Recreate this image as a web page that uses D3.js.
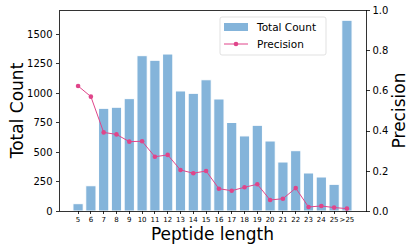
<!DOCTYPE html>
<meta charset="utf-8">
<script src="https://d3js.org/d3.v7.min.js"></script>
<style>
body {
  margin: 0;
  background-color: #ffffff;
}
text {
  font-family: "DejaVu Sans", sans-serif;
  fill: #000;
}
.axis path,
.axis line {
  stroke: #000;
  stroke-width: 0.8px;
  shape-rendering: crispEdges;
}
</style>
<body>
  <div id="chart"></div>
</body>
<script>
var lengths = ["5", "6", "7", "8", "9", "10", "11", "12", "13", "14", "15", "16",
               "17", "18", "19", "20", "21", "22", "23", "24", "25", ">25"];
var totalCount = [62, 214, 870, 879, 952, 1316, 1277, 1330, 1017, 997, 1112, 949,
                  750, 636, 726, 593, 415, 511, 322, 288, 226, 1616];
var precision = [0.622, 0.569, 0.391, 0.381, 0.345, 0.347, 0.270, 0.279, 0.204, 0.188, 0.199, 0.111,
                 0.101, 0.118, 0.133, 0.055, 0.061, 0.114, 0.020, 0.025, 0.017, 0.012];
var countTicks = [0, 250, 500, 750, 1000, 1250, 1500];
var precisionTicks = [0, 0.2, 0.4, 0.6, 0.8, 1.0];

var W = 415, H = 249;
var margin = {top: 10, right: 49, bottom: 38, left: 59},
    width = W - margin.left - margin.right,
    height = H - margin.top - margin.bottom;

var barColor = "#84b4da",
    lineColor = "#e0458a";

var svg = d3.select("#chart").append("svg")
    .attr("width", W)
    .attr("height", H);

var g = svg.append("g")
    .attr("transform", "translate(" + margin.left + "," + margin.top + ")");

var x = d3.scaleBand()
    .domain(lengths)
    .range([0, width])
    .paddingInner(0.2)
    .paddingOuter(1.09);

var y = d3.scaleLinear().domain([0, 1703]).range([height, 0]);
var y2 = d3.scaleLinear().domain([0, 1]).range([height, 0]);

var data = lengths.map(function(d, i) {
  return {len: d, count: totalCount[i], prec: precision[i]};
});

g.selectAll(".bar")
    .data(data)
    .enter().append("rect")
    .attr("class", "bar")
    .attr("x", function(d) { return x(d.len); })
    .attr("width", x.bandwidth())
    .attr("y", function(d) { return y(d.count); })
    .attr("height", function(d) { return height - y(d.count); })
    .style("fill", barColor)
    .style("stroke", "#ffffff")
    .style("stroke-width", 1);

var line = d3.line()
    .x(function(d) { return x(d.len) + x.bandwidth() / 2; })
    .y(function(d) { return y2(d.prec); });

g.append("path")
    .datum(data)
    .attr("d", line)
    .attr("fill", "none")
    .style("stroke", lineColor)
    .style("stroke-width", 1);

g.selectAll(".dot")
    .data(data)
    .enter().append("circle")
    .attr("class", "dot")
    .attr("cx", function(d) { return x(d.len) + x.bandwidth() / 2; })
    .attr("cy", function(d) { return y2(d.prec); })
    .attr("r", 2.3)
    .style("fill", lineColor);

// frame
g.append("rect")
    .attr("width", width)
    .attr("height", height)
    .attr("fill", "none")
    .style("stroke", "#000")
    .style("stroke-width", 0.8)
    .style("shape-rendering", "crispEdges");

var xAxis = g.append("g")
    .attr("class", "axis")
    .attr("transform", "translate(0," + height + ")")
    .call(d3.axisBottom(x).tickSize(3).tickPadding(3));
xAxis.selectAll("text").style("font-size", "7px");

var yAxis = g.append("g")
    .attr("class", "axis")
    .call(d3.axisLeft(y).tickValues(countTicks).tickSize(3.5).tickPadding(3)
      .tickFormat(d3.format("d")));
yAxis.selectAll("text").style("font-size", "10px");

var yAxis2 = g.append("g")
    .attr("class", "axis")
    .attr("transform", "translate(" + width + ",0)")
    .call(d3.axisRight(y2).tickValues(precisionTicks).tickSize(3.5).tickPadding(3)
      .tickFormat(d3.format(".1f")));
yAxis2.selectAll("text").style("font-size", "10px");

g.selectAll(".axis .domain").remove();

svg.append("text")
    .attr("transform", "translate(23," + (margin.top + height / 2) + ") rotate(-90)")
    .attr("text-anchor", "middle")
    .style("font-size", "17px")
    .text("Total Count");

svg.append("text")
    .attr("transform", "translate(405," + (margin.top + height / 2) + ") rotate(-90)")
    .attr("text-anchor", "middle")
    .style("font-size", "17px")
    .text("Precision");

svg.append("text")
    .attr("x", margin.left + width / 2)
    .attr("y", 240)
    .attr("text-anchor", "middle")
    .style("font-size", "17px")
    .text("Peptide length");

// legend
var legend = svg.append("g").attr("transform", "translate(220,17)");
legend.append("rect")
    .attr("width", 106)
    .attr("height", 38)
    .attr("rx", 2)
    .attr("fill", "#fff")
    .attr("fill-opacity", 0.8)
    .style("stroke", "#d9d9d9")
    .style("stroke-width", 0.8);
legend.append("rect")
    .attr("x", 4).attr("y", 6)
    .attr("width", 24).attr("height", 8)
    .style("fill", barColor);
legend.append("text")
    .attr("x", 37).attr("y", 14)
    .style("font-size", "10.5px")
    .text("Total Count");
legend.append("line")
    .attr("x1", 4).attr("x2", 28)
    .attr("y1", 27).attr("y2", 27)
    .style("stroke", lineColor)
    .style("stroke-width", 1);
legend.append("circle")
    .attr("cx", 16).attr("cy", 27).attr("r", 2.3)
    .style("fill", lineColor);
legend.append("text")
    .attr("x", 37).attr("y", 31)
    .style("font-size", "10.5px")
    .text("Precision");
</script>
